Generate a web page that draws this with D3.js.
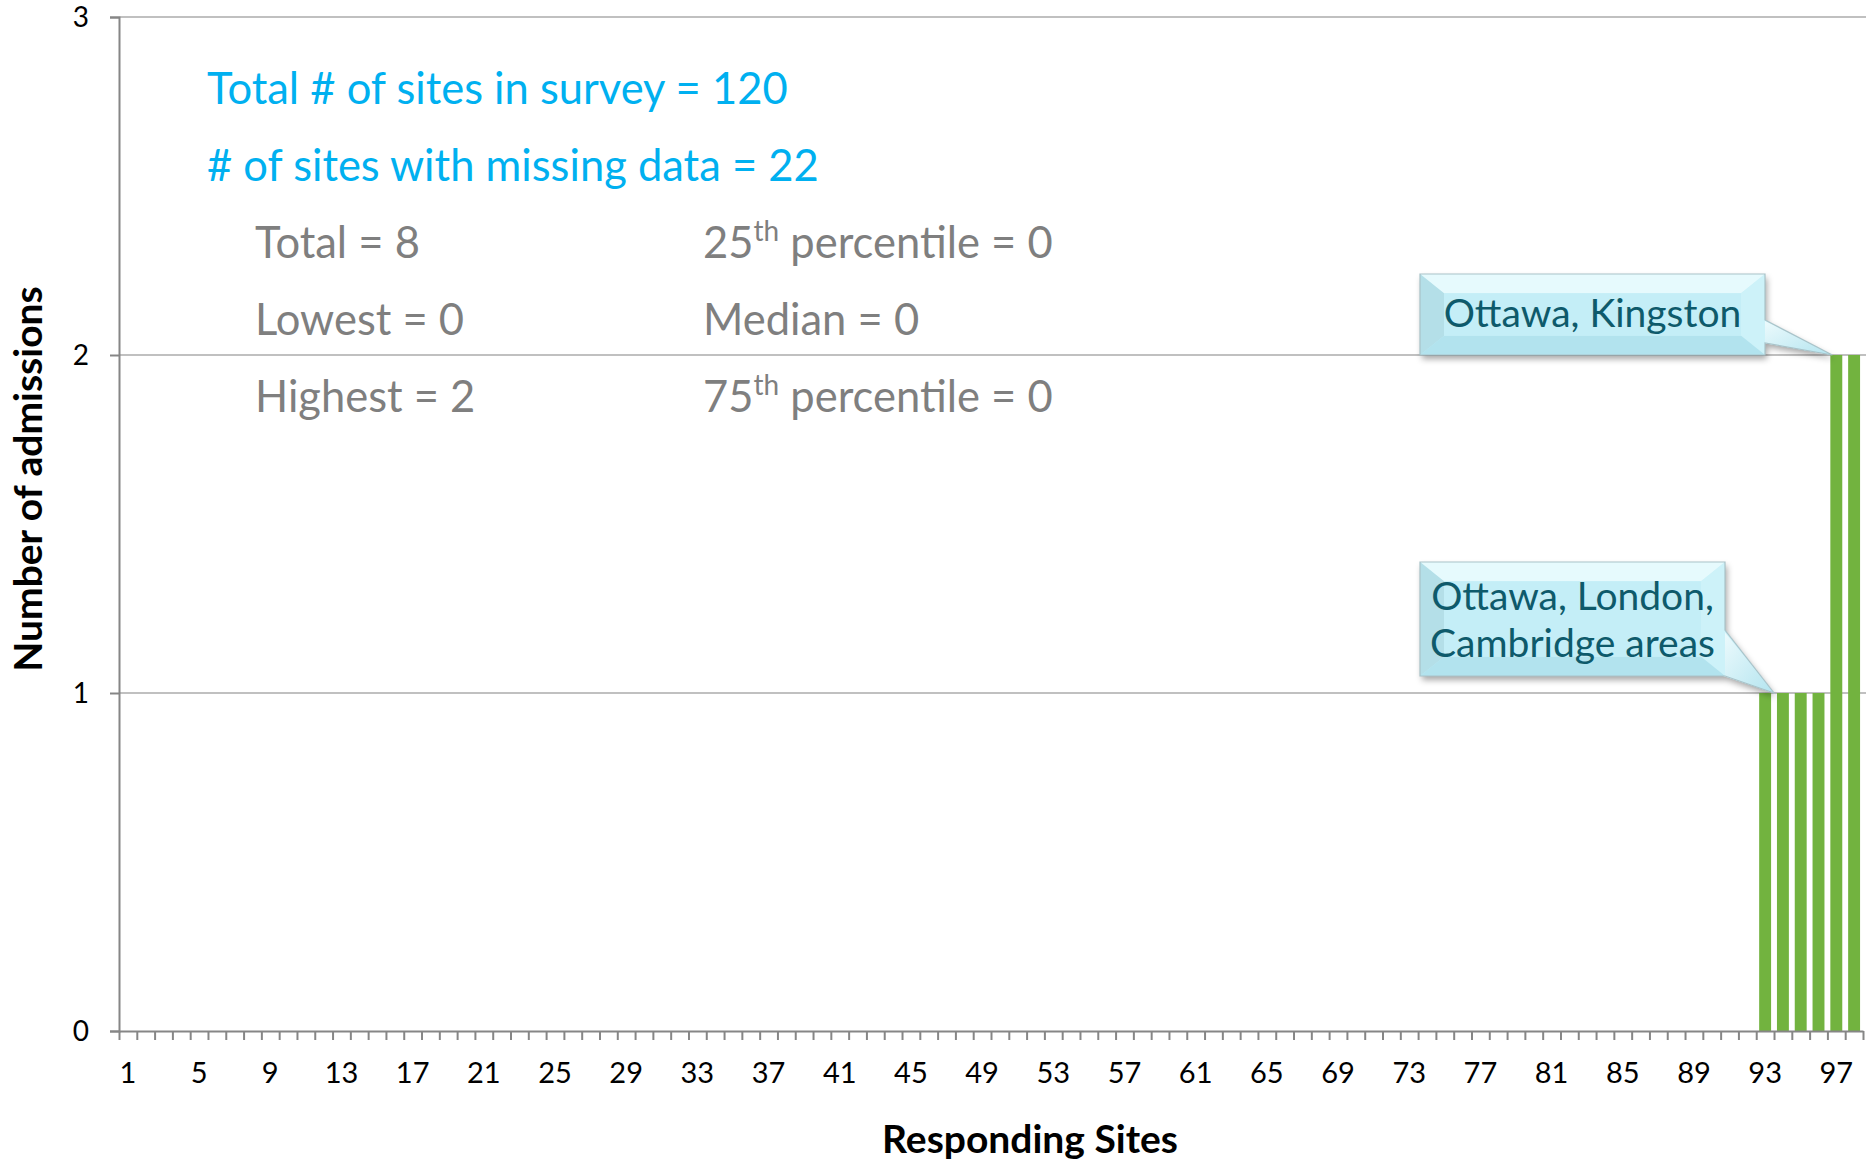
<!DOCTYPE html>
<html>
<head>
<meta charset="utf-8">
<script src="https://cdn.jsdelivr.net/npm/d3@7"></script>
<style>
  html, body { margin: 0; padding: 0; background: #ffffff; }
  svg { display: block; font-family: Lato, "Open Sans", sans-serif; }
</style>
</head>
<body>
<svg id="chart" width="1866" height="1161"></svg>
<script>
// Admissions per responding site (sites 1–98, sorted ascending)
const sites = [
  1,2,3,4,5,6,7,8,9,10,11,12,13,14,15,16,17,18,19,20,
  21,22,23,24,25,26,27,28,29,30,31,32,33,34,35,36,37,38,39,40,
  41,42,43,44,45,46,47,48,49,50,51,52,53,54,55,56,57,58,59,60,
  61,62,63,64,65,66,67,68,69,70,71,72,73,74,75,76,77,78,79,80,
  81,82,83,84,85,86,87,88,89,90,91,92,93,94,95,96,97,98
];
const admissions = [
  0,0,0,0,0,0,0,0,0,0,0,0,0,0,0,0,0,0,0,0,
  0,0,0,0,0,0,0,0,0,0,0,0,0,0,0,0,0,0,0,0,
  0,0,0,0,0,0,0,0,0,0,0,0,0,0,0,0,0,0,0,0,
  0,0,0,0,0,0,0,0,0,0,0,0,0,0,0,0,0,0,0,0,
  0,0,0,0,0,0,0,0,0,0,0,0,1,1,1,1,2,2
];
const xTickLabels = [1,5,9,13,17,21,25,29,33,37,41,45,49,53,57,61,65,69,73,77,81,85,89,93,97];
const yTicks = [0,1,2,3];

const surveyLines = ["Total # of sites in survey = 120", "# of sites with missing data = 22"];
const statsLeft = ["Total = 8", "Lowest = 0", "Highest = 2"];
const statsRight = [
  {pre: "25", sup: "th", post: " percentile = 0"},
  {pre: "Median = 0", sup: "", post: ""},
  {pre: "75", sup: "th", post: " percentile = 0"}
];
// Callouts: label lines and the site whose bar they point to
const callouts = [
  {lines: ["Ottawa, Kingston"], site: 97, side: "left"},
  {lines: ["Ottawa, London,", "Cambridge areas"], site: 93, side: "right"}
];

const svg = d3.select("#chart");
const W = 1866, H = 1161;
const margin = {left: 119, right: 3, top: 17, bottom: 130};
const plotRight = W - margin.right;
const plotBottom = H - margin.bottom;

const x = d3.scaleBand()
  .domain(sites)
  .range([margin.left, plotRight])
  .paddingInner(0.33)
  .paddingOuter(0.165);
const xEdges = d3.scaleLinear().domain([0, sites.length]).range([margin.left, plotRight]);
const y = d3.scaleLinear().domain([0, 3]).range([plotBottom, margin.top]);

const defs = svg.append("defs");
const shadow = defs.append("filter").attr("id", "shadow")
  .attr("x", "-10%").attr("y", "-10%").attr("width", "130%").attr("height", "140%");
shadow.append("feDropShadow").attr("dx", 2).attr("dy", 4).attr("stdDeviation", 3)
  .attr("flood-color", "#000").attr("flood-opacity", 0.35);
const bodyGrad = defs.append("linearGradient").attr("id", "calloutBody")
  .attr("x1", 0).attr("y1", 0).attr("x2", 0).attr("y2", 1);
bodyGrad.append("stop").attr("offset", "0%").attr("stop-color", "#d4f5fb");
bodyGrad.append("stop").attr("offset", "100%").attr("stop-color", "#bfeaf4");
const wedgeGrad = defs.append("linearGradient").attr("id", "calloutWedge")
  .attr("x1", 0).attr("y1", 0).attr("x2", 1).attr("y2", 1);
wedgeGrad.append("stop").attr("offset", "0%").attr("stop-color", "#eefbfd");
wedgeGrad.append("stop").attr("offset", "100%").attr("stop-color", "#b3e4ef");

// Horizontal gridlines
svg.append("g")
  .selectAll("line")
  .data(yTicks.filter(d => d > 0))
  .join("line")
  .attr("x1", margin.left).attr("x2", W)
  .attr("y1", d => y(d)).attr("y2", d => y(d))
  .attr("stroke", "#c0c0c0").attr("stroke-width", 2);

// Bars
svg.append("g")
  .selectAll("rect")
  .data(sites.map((s, i) => ({site: s, value: admissions[i]})).filter(d => d.value > 0))
  .join("rect")
  .attr("x", d => x(d.site))
  .attr("width", x.bandwidth())
  .attr("y", d => y(d.value))
  .attr("height", d => y(0) - y(d.value))
  .attr("fill", "#72b33f");

// Y axis
const yAxis = svg.append("g")
  .attr("transform", `translate(${margin.left},0)`)
  .call(d3.axisLeft(y).tickValues(yTicks).tickFormat(d3.format("d")).tickSize(9).tickPadding(21));
yAxis.select(".domain").attr("stroke", "#868686").attr("stroke-width", 2);
yAxis.selectAll(".tick line").attr("stroke", "#868686").attr("stroke-width", 2);
yAxis.selectAll(".tick text").attr("font-size", 28).attr("fill", "#000")
  .attr("font-family", "Lato, sans-serif").attr("dy", "0.34em");

// X axis: tick marks at every site boundary
const xTicks = svg.append("g")
  .attr("transform", `translate(0,${plotBottom})`)
  .call(d3.axisBottom(xEdges).tickValues(d3.range(0, sites.length + 1)).tickFormat("").tickSize(9).tickSizeOuter(0));
xTicks.select(".domain").attr("stroke", "#868686").attr("stroke-width", 2);
xTicks.selectAll(".tick line").attr("stroke", "#868686").attr("stroke-width", 2);

// X axis: site labels centred under their bars
const xLabels = svg.append("g")
  .attr("transform", `translate(0,${plotBottom})`)
  .call(d3.axisBottom(x).tickValues(xTickLabels).tickSize(0).tickPadding(31));
xLabels.select(".domain").remove();
xLabels.selectAll(".tick text").attr("font-size", 29).attr("fill", "#000")
  .attr("font-family", "Lato, sans-serif");

// Axis titles
svg.append("text")
  .attr("x", 1030)
  .attr("y", 1153)
  .attr("text-anchor", "middle")
  .attr("font-size", 39).attr("font-weight", "bold").attr("fill", "#000")
  .text("Responding Sites");
svg.append("text")
  .attr("transform", `translate(42,479) rotate(-90)`)
  .attr("text-anchor", "middle")
  .attr("font-size", 39).attr("font-weight", "bold").attr("fill", "#000")
  .text("Number of admissions");

// Survey summary
svg.append("g").selectAll("text")
  .data(surveyLines)
  .join("text")
  .attr("x", 207)
  .attr("y", (d, i) => 104 + i * 77)
  .attr("font-size", 43.5).attr("fill", "#00b0f0")
  .text(d => d);

svg.append("g").selectAll("text")
  .data(statsLeft)
  .join("text")
  .attr("x", 255)
  .attr("y", (d, i) => 258 + i * 77)
  .attr("font-size", 43.5).attr("fill", "#7f7f7f")
  .text(d => d);

const right = svg.append("g").selectAll("text")
  .data(statsRight)
  .join("text")
  .attr("x", 703)
  .attr("y", (d, i) => 258 + i * 77)
  .attr("font-size", 43.5).attr("fill", "#7f7f7f");
right.append("tspan").text(d => d.pre);
right.filter(d => d.sup).append("tspan")
  .attr("font-size", 28).attr("dy", -17).text(d => d.sup);
right.filter(d => d.post).append("tspan")
  .attr("dy", 17).text(d => d.post);

// Callout boxes
const boxes = [
  {x0: 1420, x1: 1765, y0: 274, y1: 355, wy0: 320, wy1: 343, baseline: 327},
  {x0: 1420, x1: 1725, y0: 562, y1: 676, wy0: 630, wy1: 676, baseline: 610}
];
callouts.forEach((c, k) => {
  const b = boxes[k];
  const idx = sites.indexOf(c.site);
  const tipX = c.side === "left" ? x(c.site) + 2 : x(c.site) + x.bandwidth() + 3;
  const tipY = y(admissions[idx]);
  const g = svg.append("g");
  const bev = 24;
  // Body + pointer outline with shadow
  const outline = `M${b.x0},${b.y0} L${b.x1},${b.y0} L${b.x1},${b.wy0} L${tipX},${tipY} L${b.x1},${b.wy1} L${b.x1},${b.y1} L${b.x0},${b.y1} Z`;
  g.append("path").attr("d", outline).attr("fill", "url(#calloutBody)").attr("filter", "url(#shadow)");
  // Pointer
  g.append("path")
    .attr("d", `M${b.x1 - 2},${b.wy0} L${tipX},${tipY} L${b.x1 - 2},${b.wy1} Z`)
    .attr("fill", "url(#calloutWedge)");
  // Bevel faces
  const ix0 = b.x0 + bev, ix1 = b.x1 - bev, iy0 = b.y0 + bev * 0.8, iy1 = b.y1 - bev * 0.8;
  g.append("path").attr("d", `M${b.x0},${b.y0} L${b.x1},${b.y0} L${ix1},${iy0} L${ix0},${iy0} Z`)
    .attr("fill", "#e6fafd");
  g.append("path").attr("d", `M${b.x0},${b.y0} L${ix0},${iy0} L${ix0},${iy1} L${b.x0},${b.y1} Z`)
    .attr("fill", "#b4dfe8");
  g.append("path").attr("d", `M${b.x1},${b.y0} L${b.x1},${b.y1} L${ix1},${iy1} L${ix1},${iy0} Z`)
    .attr("fill", "#cdf2f9");
  g.append("path").attr("d", `M${b.x0},${b.y1} L${ix0},${iy1} L${ix1},${iy1} L${b.x1},${b.y1} Z`)
    .attr("fill", "#b2e3ee");
  g.append("rect").attr("x", ix0).attr("y", iy0).attr("width", ix1 - ix0).attr("height", iy1 - iy0)
    .attr("fill", "#c4eef7");
  g.append("path").attr("d", outline).attr("fill", "none").attr("stroke", "#a9c3c9").attr("stroke-width", 1.2);
  g.selectAll("text.label")
    .data(c.lines)
    .join("text")
    .attr("class", "label")
    .attr("x", (b.x0 + b.x1) / 2)
    .attr("y", (d, i) => b.baseline + i * 47)
    .attr("text-anchor", "middle")
    .attr("font-size", 39).attr("fill", "#0e5a6b")
    .text(d => d);
});
</script>
</body>
</html>
